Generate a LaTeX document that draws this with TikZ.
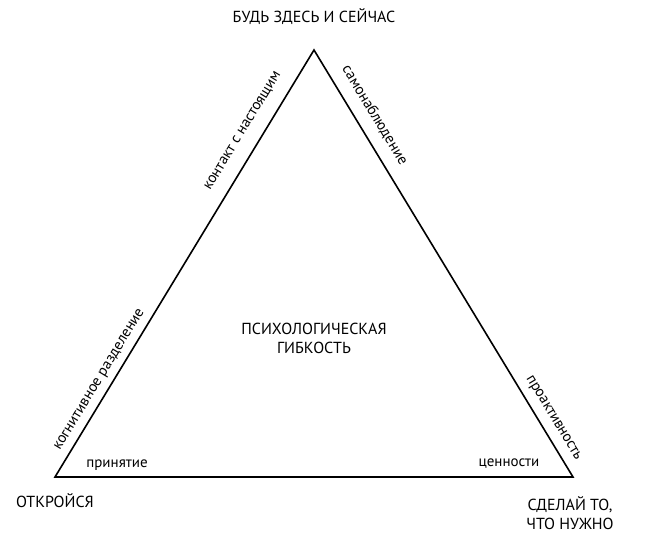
\documentclass[tikz,border=0pt]{standalone}
\usepackage{fontspec}
\setmainfont{PT Sans}
\begin{document}
\begin{tikzpicture}[x=1pt,y=-1pt,
  capt/.style={font=\fontsize{16}{19}\selectfont,align=center},
  lab/.style={font=\fontsize{15}{18}\selectfont},
  inner sep=0pt]
\useasboundingbox (0,0) rectangle (656,541);
\coordinate (T) at (314,50);
\coordinate (L) at (55,477);
\coordinate (R) at (573,477);
\draw[line width=1.6pt,line join=miter] (T) -- (L) -- (R) -- cycle;
\node[capt] (top) at (314,17) {БУДЬ ЗДЕСЬ И СЕЙЧАС};
\node[capt] (open) at (55,501) {ОТКРОЙСЯ};
\node[capt] (do) at (570,513) {СДЕЛАЙ ТО,\\ЧТО НУЖНО};
\node[capt] (mid) at (314,338) {ПСИХОЛОГИЧЕСКАЯ\\ГИБКОСТЬ};
\node[lab,rotate=58.8] (k1) at (243,131) {контакт с настоящим};
\node[lab,rotate=58.8] (k2) at (100,380) {когнитивное разделение};
\node[lab,rotate=-58.8] (s1) at (375,115) {самонаблюдение};
\node[lab,rotate=-58.8] (s2) at (553,418) {проактивность};
\node[lab] (p) at (117,465) {принятие};
\node[lab] (c) at (509,464) {ценности};
\end{tikzpicture}
\end{document}
